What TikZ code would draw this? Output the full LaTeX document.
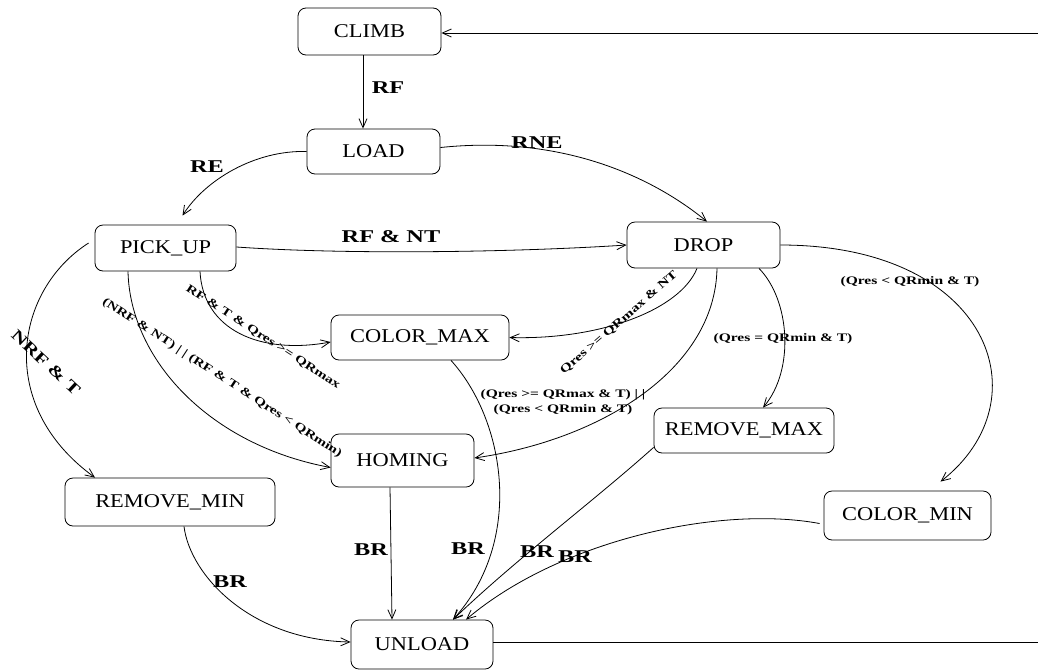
\documentclass[tikz,border=0pt]{standalone}
\usepackage{fontspec}
\setmainfont{Liberation Serif}[FakeStretch=1.15]
\newfontfamily\lblfont{Liberation Serif}[FakeStretch=1.35]
\usetikzlibrary{arrows.meta}
\tikzset{
  state/.style={draw, rounded corners=8pt, inner sep=0pt, line width=0.8pt,
    font=\fontsize{19.5}{22}\selectfont},
  conn/.style={line width=0.8pt, -{Straight Barb[length=9pt,width=8pt]}},
  plainline/.style={line width=0.8pt},
  biglbl/.style={font=\lblfont\bfseries\fontsize{18}{20}\selectfont, inner sep=0pt},
  midlbl/.style={font=\lblfont\bfseries\fontsize{16}{18}\selectfont, inner sep=0pt},
  smalllbl/.style={font=\lblfont\bfseries\fontsize{11.5}{15}\selectfont, inner sep=0pt},
}
\begin{document}
\begin{tikzpicture}[x=1pt,y=-1pt]
\useasboundingbox (0,0) rectangle (1038,670);

% states
\node[state, minimum width=143pt, minimum height=47pt] (climb) at (369.5,31.5) {CLIMB};
\node[state, minimum width=133pt, minimum height=45pt] (load) at (373.5,151.5) {LOAD};
\node[state, minimum width=141pt, minimum height=46pt] (pickup) at (165.5,248) {PICK\_UP};
\node[state, minimum width=153pt, minimum height=46pt] (drop) at (703.5,245) {DROP};
\node[state, minimum width=178pt, minimum height=45pt] (colormax) at (420,337.5) {COLOR\_MAX};
\node[state, minimum width=143pt, minimum height=53pt] (homing) at (402.5,460.5) {HOMING};
\node[state, minimum width=180pt, minimum height=45pt] (removemax) at (744,430.5) {REMOVE\_MAX};
\node[state, minimum width=210pt, minimum height=48pt] (removemin) at (170,502) {REMOVE\_MIN};
\node[state, minimum width=167pt, minimum height=49pt] (colormin) at (907.5,515.5) {COLOR\_MIN};
\node[state, minimum width=142pt, minimum height=49pt] (unload) at (422,644.5) {UNLOAD};

\coordinate (rin) at (1038,33);
\coordinate (rout) at (1038,642);

% connectors
\draw[conn] (rin) -- (rin -| climb.east);
\draw[plainline] (unload.east |- rout) -- (rout);
\draw[conn] ([xshift=-6.5]climb.south) -- ([xshift=-10.5]load.north);
\draw[conn] (load.west) .. controls (255,150) and (205,180) .. ([xshift=17,yshift=9]pickup.north);
\draw[conn] ([yshift=4]load.east) .. controls (560,135) and (650,175) .. ([xshift=3.5]drop.north);
\draw[conn] ([yshift=1]pickup.east) .. controls (350,255) and (520,252) .. (drop.west);
\draw[conn] ([xshift=34.5]pickup.south) .. controls (203,330) and (260,355) .. ([yshift=-4.5]colormax.west);
\draw[conn] ([xshift=-37.5]pickup.south) .. controls (130,360) and (210,445) .. ([yshift=-7]homing.west);
\draw[conn] ([xshift=-6,yshift=5]pickup.west) .. controls (15,290) and (-5,405) .. ([xshift=-75]removemin.north);
\draw[conn] ([xshift=-6.5]drop.south) .. controls (680,310) and (600,340) .. (colormax.east);
\draw[conn] ([xshift=13.5]drop.south) .. controls (715,370) and (600,440) .. ([yshift=2.5]homing.east);
\draw[conn] ([xshift=55.5]drop.south) .. controls (790,300) and (795,370) .. ([xshift=19]removemax.north);
\draw[conn] (drop.east) .. controls (990,245) and (1045,400) .. ([xshift=33,yshift=9]colormin.north);
\draw[conn] ([xshift=31]colormax.south) .. controls (505,420) and (525,540) .. ([xshift=31]unload.north);
\draw[conn] ([xshift=-12.5]homing.south) -- ([xshift=-30]unload.north);
\draw[conn] ([yshift=6]removemax.south west) .. controls (595,500) and (515,560) .. ([xshift=31]unload.north);
\draw[conn] ([xshift=-4,yshift=-8]colormin.west) .. controls (720,505) and (560,540) .. ([xshift=44]unload.north);
\draw[conn] ([xshift=14]removemin.south) .. controls (190,575) and (250,640) .. ([yshift=2.5]unload.west);

% labels
\node[biglbl] (lrf) at (388,88) {RF};
\node[biglbl] (lre) at (207,167) {RE};
\node[biglbl] (lrne) at (537,143) {RNE};
\node[biglbl] (lrfnt) at (391,237) {RF \& NT};
\node[midlbl, rotate=-43] (lnrft) at (46,363) {NRF \& T};
\node[smalllbl, rotate=-33] (lcmax) at (263,337) {RF \& T \& Qres >= QRmax};
\node[smalllbl, rotate=-33] (lhom) at (222,378) {(NRF \& NT) | | (RF \& T \& Qres < QRmin)};
\node[smalllbl, rotate=41] (ldropcm) at (619,323) {Qres >= QRmax \& NT};
\node[smalllbl, align=center] (ldroph) at (563,402) {(Qres >= QRmax \& T) | |\\(Qres < QRmin \& T)};
\node[smalllbl] (lrm) at (783,339) {(Qres = QRmin \& T)};
\node[smalllbl] (lcmin) at (910,282) {(Qres < QRmin \& T)};
\node[biglbl] (lbr1) at (371,550) {BR};
\node[biglbl] (lbr2) at (468,549) {BR};
\node[biglbl] (lbr3) at (537,552) {BR};
\node[biglbl] (lbr4) at (575,557) {BR};
\node[biglbl] (lbr5) at (230,582) {BR};
\end{tikzpicture}
\end{document}
